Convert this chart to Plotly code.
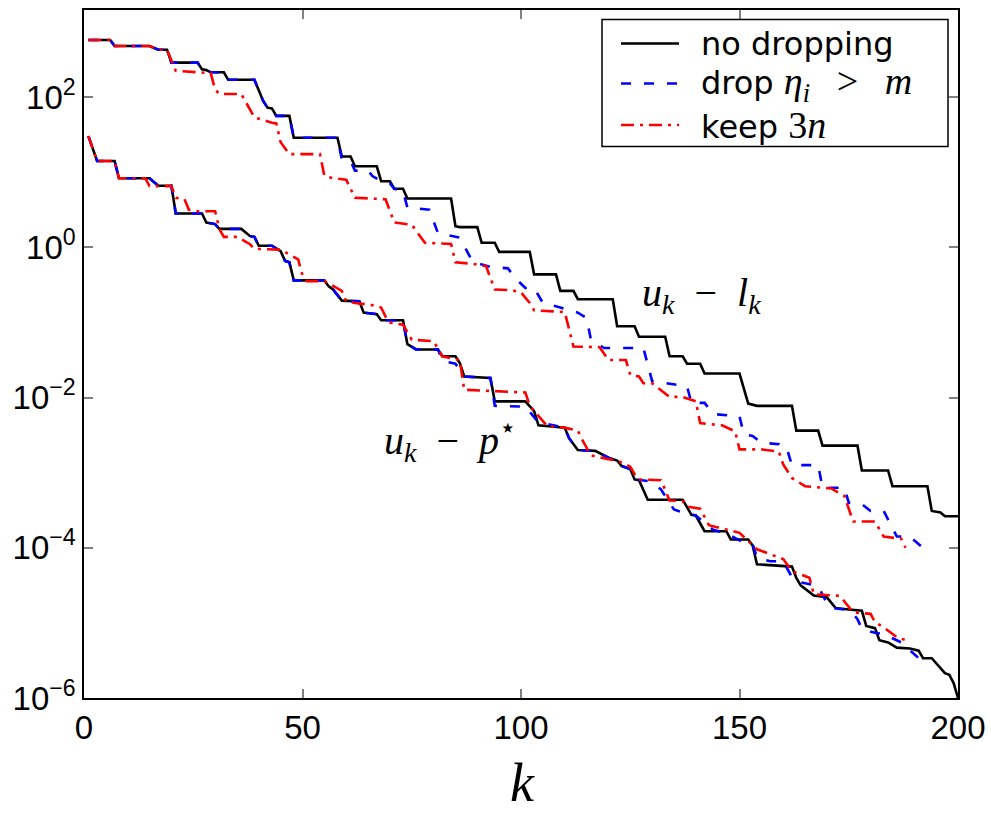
import plotly.graph_objects as go

# ---------------- data ----------------
k_gap_none = [1,6,7,15,17,19,20,26,27,28,29,32,33,39,41,42,43,44,47,48,58,59,61,62,67,68,70,71,73,74,
              84,85,86,90,91,94,95,102,103,108,109,112,113,121,122,126,127,133,134,137,138,141,142,150,
              152,154,162,163,168,169,177,178,184,185,193,194,196,197,200]
v_gap_none = [575,575,479,479,427,427,288,288,234,229,214,214,170,170,89.1,72.4,70.8,56.2,56.2,28.8,
              28.8,16.2,16.2,12.0,12.0,7.59,7.59,6.03,6.03,4.47,4.47,1.91,1.86,1.86,1.15,1.15,0.871,0.871,
              0.437,0.437,0.263,0.263,0.204,0.204,0.0891,0.0891,0.0646,0.0646,0.0355,0.0355,0.0282,0.0282,
              0.0209,0.0209,0.00832,0.00776,0.00776,0.00363,0.00363,0.00229,0.00229,0.00107,0.00107,
              6.61e-4,6.61e-4,3.09e-4,2.95e-4,2.63e-4,2.63e-4]

k_gap_drop = [1,6,7,15,17,19,20,26,27,28,29,32,33,39,41,42,43,44,47,48,58,59,61,62,65,66,68,70,71,73,
              74,79,81,83,86,89,90,93,95,97,99,101,103,105,109,113,115,116,119,128,130,135,138,139,142,
              144,150,151,153,155,159,160,161,162,168,169,174,175,178,180,183,186,189,192]
v_gap_drop = [575,575,479,479,427,427,288,288,234,229,214,214,170,170,89.1,72.4,70.8,56.2,56.2,28.8,
              28.8,14.8,14.1,10.5,10.5,8.91,7.59,7.08,6.03,5.62,3.39,3.16,1.55,1.48,1.35,0.631,0.617,
              0.550,0.537,0.525,0.372,0.288,0.288,0.182,0.158,0.135,0.115,0.0589,0.0457,0.0457,0.0166,
              0.0148,0.0141,0.00851,0.00851,0.00603,0.00562,0.00324,0.00309,0.00251,0.00240,0.00195,
              0.00195,0.00126,0.00126,6.31e-4,6.31e-4,3.98e-4,3.80e-4,3.09e-4,3.09e-4,1.41e-4,1.41e-4,1.0e-4]

k_gap_keep = [1,6,7,15,17,19,21,27,29,30,31,36,39,43,44,45,47,54,55,57,60,62,69,71,75,78,84,85,89,92,
              94,98,100,102,103,110,111,112,118,120,124,125,127,128,130,134,137,140,141,146,149,150,155,
              159,160,162,165,171,174,176,181,183,187,188]
v_gap_keep = [575,575,479,479,427,427,224,214,209,126,110,110,53.7,45.7,44.7,25.1,17.4,17.4,8.91,8.32,
              7.94,4.57,4.37,2.14,2.0,1.15,1.11,0.631,0.603,0.562,0.275,0.269,0.251,0.182,0.145,0.138,
              0.0832,0.0479,0.0468,0.0316,0.0316,0.0200,0.0191,0.0155,0.0155,0.0102,0.0102,0.00891,
              0.00457,0.00427,0.00355,0.00204,0.00204,0.00191,0.00129,8.51e-4,6.61e-4,6.17e-4,4.90e-4,
              2.24e-4,2.24e-4,1.41e-4,1.32e-4,1.0e-4]

k_opt_none = [1,3,7,8,15,17,20,21,27,28,30,31,36,38,39,40,43,45,46,47,48,55,56,57,59,63,64,67,68,73,
              74,76,81,82,85,86,87,93,94,101,103,104,110,111,113,117,120,122,123,125,126,127,129,137,
              139,140,142,147,148,152,153,154,162,163,164,167,170,172,175,178,179,181,182,184,186,189,
              191,192,194,195,197,198,199,200]
v_opt_none = [30.2,14.1,14.1,8.32,8.32,6.61,6.61,2.82,2.82,2.14,2.04,1.76,1.76,1.41,1.38,1.05,1.05,
              0.891,0.661,0.631,0.363,0.363,0.302,0.275,0.195,0.191,0.135,0.129,0.107,0.107,0.0513,
              0.0437,0.0437,0.0355,0.0355,0.0288,0.0191,0.0182,0.00891,0.00891,0.00661,0.00427,0.00398,
              0.00288,0.00200,0.00195,0.00158,0.00145,0.00123,0.00112,8.13e-4,7.94e-4,4.37e-4,4.37e-4,
              2.75e-4,2.69e-4,1.66e-4,1.66e-4,1.29e-4,1.29e-4,1.07e-4,6.03e-5,5.62e-5,3.98e-5,3.16e-5,
              2.32e-5,2.19e-5,1.58e-5,1.51e-5,1.45e-5,9.12e-6,8.51e-6,5.89e-6,5.50e-6,4.68e-6,4.57e-6,
              4.27e-6,3.39e-6,3.39e-6,2.88e-6,2.14e-6,2.04e-6,1.58e-6,1.0e-6]

k_opt_drop = [1,3,7,8,15,17,20,21,27,28,30,31,36,38,39,40,43,45,46,47,48,55,56,57,59,63,64,67,68,73,
              74,76,81,82,85,87,93,94,101,103,104,110,111,113,117,120,122,123,125,126,129,132,133,135,
              136,139,140,142,144,147,151,153,154,157,160,162,164,168,170,171,174,176,177,178,179,181,
              183,187,189,191]
v_opt_drop = [30.2,14.1,14.1,8.32,8.32,6.61,6.61,2.82,2.82,2.14,2.04,1.76,1.76,1.41,1.38,1.05,1.05,
              0.891,0.661,0.631,0.363,0.363,0.302,0.275,0.195,0.191,0.135,0.129,0.107,0.107,0.0513,
              0.0437,0.0437,0.0309,0.0282,0.0191,0.0182,0.00776,0.00759,0.00562,0.00468,0.00398,0.00288,
              0.00200,0.00195,0.00158,0.00145,0.00123,0.00112,8.13e-4,7.76e-4,6.03e-4,4.90e-4,3.24e-4,
              3.09e-4,2.75e-4,2.69e-4,2.14e-4,1.74e-4,1.55e-4,1.17e-4,1.12e-4,7.41e-5,6.61e-5,6.61e-5,
              4.07e-5,3.47e-5,3.09e-5,1.82e-5,1.58e-5,1.51e-5,1.32e-5,1.12e-5,8.32e-6,7.94e-6,7.41e-6,
              7.08e-6,5.50e-6,4.27e-6,3.39e-6]

k_opt_keep = [1,3,7,8,14,15,20,21,23,24,26,30,31,32,35,38,39,45,49,50,51,55,59,60,62,66,68,69,70,73,
              75,80,82,86,87,101,102,104,106,110,113,114,116,120,122,125,126,127,132,133,134,137,138,
              141,143,150,152,154,160,162,166,167,173,176,180,181,183,186,188]
v_opt_keep = [30.2,14.1,14.1,8.32,8.32,6.53,6.53,4.57,4.37,3.16,3.02,3.02,1.74,1.38,1.38,1.10,0.955,
              0.933,0.692,0.422,0.355,0.355,0.263,0.192,0.182,0.170,0.158,0.120,0.100,0.0933,0.0589,
              0.0562,0.0355,0.0316,0.0127,0.0117,0.00776,0.00562,0.00417,0.00398,0.00363,0.00275,
              0.00170,0.00151,0.00145,0.00120,9.55e-4,8.13e-4,7.94e-4,5.89e-4,4.27e-4,4.17e-4,3.55e-4,
              3.31e-4,2.0e-4,1.58e-4,1.23e-4,9.55e-5,7.08e-5,4.90e-5,3.98e-5,2.40e-5,2.29e-5,1.38e-5,
              1.32e-5,1.02e-5,8.71e-6,6.46e-6,5.89e-6]

x_ticks = [0, 50, 100, 150, 200]
y_ticks = [1e2, 1e0, 1e-2, 1e-4, 1e-6]
y_ticktext = ["10<sup>2</sup>", "10<sup>0</sup>", "10<sup>\u22122</sup>",
              "10<sup>\u22124</sup>", "10<sup>\u22126</sup>"]

# ---------------- styles ----------------
BLACK, BLUE, RED = "#000000", "#0000ff", "#ff0000"
LW = 2.6
DASH_BLUE = "10px,13px"
DASH_RED = "13px,6px,3px,6px"

fig = go.Figure()

def add(k, v, color, dash):
    fig.add_trace(go.Scatter(x=k, y=v, mode="lines",
                             line=dict(color=color, width=LW, dash=dash),
                             showlegend=False, hoverinfo="skip"))

add(k_gap_none, v_gap_none, BLACK, "solid")
add(k_opt_none, v_opt_none, BLACK, "solid")
add(k_gap_drop, v_gap_drop, BLUE, DASH_BLUE)
add(k_opt_drop, v_opt_drop, BLUE, DASH_BLUE)
add(k_gap_keep, v_gap_keep, RED, DASH_RED)
add(k_opt_keep, v_opt_keep, RED, DASH_RED)

# plot area in pixels
PL, PR, PT, PB = 84, 958, 10, 698
W, H = 991, 814

def px(xp):
    return (xp - PL) / (PR - PL)

def py(yp):
    return 1 - (yp - PT) / (PB - PT)

TICKFONT = dict(family="Liberation Sans, Arial, sans-serif", size=33, color="black")
SERIF = "Liberation Serif, Times New Roman, serif"

fig.update_layout(
    width=W, height=H,
    margin=dict(l=PL, r=W - PR, t=PT, b=H - PB, autoexpand=False),
    paper_bgcolor="white", plot_bgcolor="white",
    showlegend=False,
    xaxis=dict(range=[0, 200], tickmode="array", tickvals=x_ticks, automargin=False,
               ticks="inside", ticklen=9, tickwidth=1.5, tickcolor="#808080",
               showline=True, linecolor="black", linewidth=1.5, mirror="ticks",
               showgrid=False, zeroline=False, tickfont=TICKFONT),
    yaxis=dict(type="log", range=[-6, 3.16], tickmode="array", tickvals=y_ticks,
               ticktext=y_ticktext, automargin=False,
               ticks="inside", ticklen=9, tickwidth=1.5, tickcolor="#808080",
               showline=True, linecolor="black", linewidth=1.5, mirror="ticks",
               showgrid=False, zeroline=False, tickfont=TICKFONT),
)

# x-axis title
fig.add_annotation(x=px(522), y=py(783), xref="paper", yref="paper",
                   text="<i>k</i>", showarrow=False, xanchor="center", yanchor="middle",
                   font=dict(family=SERIF, size=54, color="black"))

# curve labels
fig.add_annotation(x=141.2, y=-0.63, xref="x", yref="y",
                   text="<i>u<sub>k</sub></i>\u2002\u2212\u2002<i>l<sub>k</sub></i>",
                   showarrow=False, font=dict(family=SERIF, size=40, color="black"),
                   xanchor="center", yanchor="middle")
fig.add_annotation(x=83.8, y=-2.57, xref="x", yref="y",
                   text="<i>u<sub>k</sub></i>\u2002\u2212\u2002<i>p</i><sup>\u22c6</sup>",
                   showarrow=False, font=dict(family=SERIF, size=40, color="black"),
                   xanchor="center", yanchor="middle")

# legend (frame, samples, labels)
fig.add_shape(type="rect", xref="paper", yref="paper",
              x0=px(602), x1=px(948), y0=py(146.5), y1=py(19.5),
              line=dict(color="black", width=1.5), fillcolor="white", layer="above")
rows = [43.5, 83.5, 125.0]
styles = [(BLACK, "solid"), (BLUE, DASH_BLUE), (RED, DASH_RED)]
MATH = "font-family:Liberation Serif;font-size:38px"
labels = [
    "no dropping",
    f"drop <span style='{MATH}'><i>\u03b7<sub>i</sub></i>\u2002\u2009&gt;\u2002\u2009<i>m</i></span>",
    f"keep <span style='{MATH}'>3<i>n</i></span>",
]
for yrow, (c, d), lab in zip(rows, styles, labels):
    fig.add_shape(type="line", xref="paper", yref="paper",
                  x0=px(621), x1=px(679), y0=py(yrow), y1=py(yrow),
                  line=dict(color=c, width=LW, dash=d), layer="above")
    fig.add_annotation(x=px(699), y=py(yrow), xref="paper", yref="paper",
                       text=lab, showarrow=False, xanchor="left", yanchor="middle",
                       font=dict(family="DejaVu Sans, sans-serif", size=32, color="black"))

fig.write_html("out.html", config={"displayModeBar": False},
               post_script="document.body.style.margin='0';document.body.style.overflow='hidden';")
